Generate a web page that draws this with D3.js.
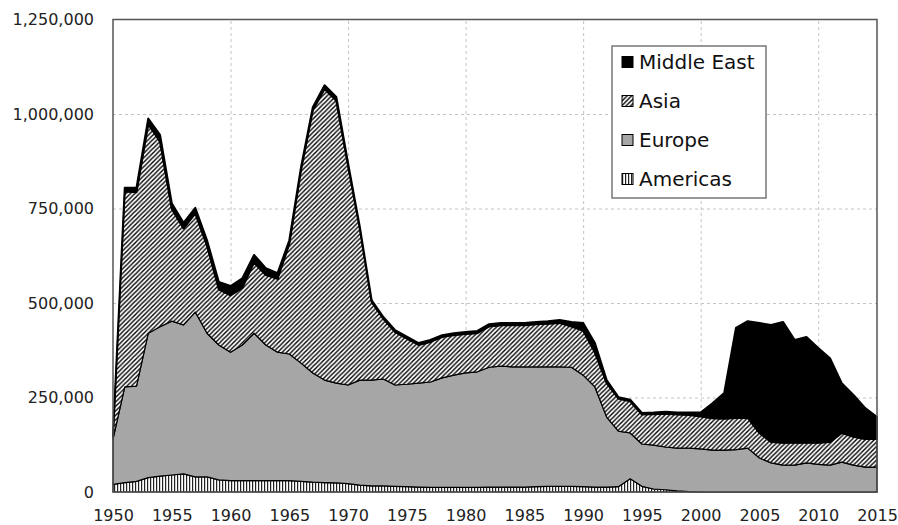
<!DOCTYPE html>
<meta charset="utf-8" />
<style>
  body { margin: 0; background: #fff; }
  svg { font-family: "DejaVu Sans", sans-serif; }
  .grid line { stroke: #c4c4c4; stroke-dasharray: 3,3; stroke-width: 1px; }
  .grid path { display: none; }
  .axis path { display: none; }
  .axis text { font-family: "DejaVu Sans", sans-serif; font-size: 16px; fill: #222; }
  .legend text { font-size: 20px; fill: #111; }
</style>
<body>
<script src="https://d3js.org/d3.v7.min.js"></script>
<script>

// data (thousands of people, per year)
var years = d3.range(1950, 2016);

var americas = [20, 25, 28, 38, 42, 45, 48, 40, 40, 32,
                30, 30, 30, 30, 30, 30, 28, 26, 25, 24,
                22, 18, 16, 16, 15, 14, 13, 12, 12, 12,
                12, 12, 13, 13, 13, 13, 14, 15, 15, 15,
                14, 13, 13, 14, 35, 15, 8, 6, 3, 1,
                0, 0, 0, 0, 0, 0, 0, 0, 0, 0,
                0, 0, 0, 0, 0, 0];

var europe = [120, 253, 252, 382, 395, 407, 394, 436, 380, 357,
              340, 359, 390, 359, 340, 335, 313, 289, 271, 264,
              261, 278, 280, 283, 268, 271, 275, 279, 290, 297,
              303, 306, 317, 320, 318, 318, 317, 316, 316, 315,
              295, 265, 185, 147, 121, 112, 116, 113, 113, 115,
              114, 111, 111, 112, 116, 90, 77, 71, 71, 77,
              73, 71, 79, 71, 66, 66];

var asia = [7, 517, 513, 553, 490, 297, 255, 261, 231, 147,
            150, 151, 187, 185, 194, 291, 511, 695, 770, 747,
            579, 400, 207, 159, 140, 121, 101, 106, 108, 106,
            103, 102, 108, 108, 110, 110, 113, 114, 116, 108,
            118, 91, 90, 86, 84, 78, 82, 88, 89, 88,
            86, 84, 83, 84, 80, 66, 55, 59, 59, 53,
            57, 61, 77, 75, 74, 74];

var middleEast = [3, 10, 12, 15, 18, 15, 15, 15, 15, 20,
                  25, 25, 20, 18, 15, 10, 8, 8, 10, 10,
                  8, 5, 5, 5, 5, 5, 5, 5, 5, 5,
                  5, 6, 6, 6, 6, 6, 6, 7, 8, 12,
                  20, 25, 8, 4, 4, 4, 4, 5, 5, 6,
                  10, 40, 68, 238, 256, 291, 310, 320, 272, 280,
                  251, 222, 132, 111, 82, 58];

var seriesNames = ["Americas", "Europe", "Asia", "Middle East"];
var xTicks = d3.range(1950, 2016, 5);
var xGrid = d3.range(1960, 2011, 10);
var yTicks = [0, 250000, 500000, 750000, 1000000, 1250000];

// table for d3.stack
var table = years.map(function(yr, i) {
  return {
    year: yr,
    "Americas": americas[i] * 1000,
    "Europe": europe[i] * 1000,
    "Asia": asia[i] * 1000,
    "Middle East": middleEast[i] * 1000
  };
});

var W = 898, H = 525;
var plotL = 113, plotR = 877, plotT = 19.5, plotB = 492;

var svg = d3.select("body").append("svg")
    .attr("width", W)
    .attr("height", H);

// fill patterns
var defs = svg.append("defs");

defs.append("pattern")
    .attr("id", "hatch")
    .attr("patternUnits", "userSpaceOnUse")
    .attr("width", 4.5).attr("height", 4.5)
  .call(function(p) {
    p.append("rect").attr("width", 4.5).attr("height", 4.5).attr("fill", "#fff");
    p.append("path")
      .attr("d", "M-1,1 l2,-2 M0,4.5 l4.5,-4.5 M3.5,5.5 l2,-2")
      .attr("stroke", "#000").attr("stroke-width", 1.4);
  });

defs.append("pattern")
    .attr("id", "vstripe")
    .attr("patternUnits", "userSpaceOnUse")
    .attr("width", 3).attr("height", 10)
  .call(function(p) {
    p.append("rect").attr("width", 3).attr("height", 10).attr("fill", "#fff");
    p.append("rect").attr("x", 0).attr("width", 1.2).attr("height", 10).attr("fill", "#222");
  });

var fills = {
  "Americas": "url(#vstripe)",
  "Europe": "#a6a6a6",
  "Asia": "url(#hatch)",
  "Middle East": "#000"
};

var x = d3.scaleLinear().domain([1950, 2015]).range([plotL, plotR]);
var y = d3.scaleLinear().domain([0, 1250000]).range([plotB, plotT]);

// grid
svg.append("g")
    .attr("class", "grid")
    .attr("transform", "translate(" + plotL + ",0)")
    .call(d3.axisLeft(y).tickValues(yTicks.slice(1, -1)).tickSize(-(plotR - plotL)).tickFormat(""));

svg.append("g")
    .attr("class", "grid")
    .attr("transform", "translate(0," + plotB + ")")
    .call(d3.axisBottom(x).tickValues(xGrid).tickSize(-(plotB - plotT)).tickFormat(""));

// stacked areas
var stack = d3.stack().keys(seriesNames);
var layers = stack(table);

var area = d3.area()
    .x(function(d) { return x(d.data.year); })
    .y0(function(d) { return y(d[0]); })
    .y1(function(d) { return y(d[1]); });

svg.append("g")
  .selectAll("path")
  .data(layers)
  .join("path")
    .attr("d", area)
    .attr("fill", function(d) { return fills[d.key]; })
    .attr("stroke", "#000")
    .attr("stroke-linejoin", "round")
    .attr("stroke-width", function(d) { return d.key == "Middle East" ? 2 : 1.2; });

// plot frame
svg.append("rect")
    .attr("x", plotL).attr("y", plotT)
    .attr("width", plotR - plotL).attr("height", plotB - plotT)
    .attr("fill", "none")
    .attr("stroke", "#555")
    .attr("stroke-width", 1.5);

// axes
svg.append("g")
    .attr("class", "axis")
    .attr("transform", "translate(" + plotL + ",0)")
    .call(d3.axisLeft(y).tickValues(yTicks).tickSize(0).tickPadding(19).tickFormat(d3.format(",")));

svg.append("g")
    .attr("class", "axis")
    .attr("transform", "translate(0," + plotB + ")")
    .call(d3.axisBottom(x).tickValues(xTicks).tickSize(0).tickPadding(18).tickFormat(d3.format("d")));

// legend
var legend = svg.append("g").attr("class", "legend");

legend.append("rect")
    .attr("x", 612).attr("y", 46)
    .attr("width", 154).attr("height", 152)
    .attr("fill", "#fff")
    .attr("stroke", "#777")
    .attr("stroke-width", 1.5);

var legendOrder = seriesNames.slice().reverse();

var item = legend.selectAll("g.item")
  .data(legendOrder)
  .join("g")
    .attr("class", "item")
    .attr("transform", function(d, i) { return "translate(622," + (62 + i * 39) + ")"; });

item.append("rect")
    .attr("x", 0).attr("y", -5.5)
    .attr("width", 11).attr("height", 11)
    .attr("fill", function(d) { return fills[d]; })
    .attr("stroke", "#000")
    .attr("stroke-width", 1);

item.append("text")
    .attr("x", 17)
    .attr("dy", "0.36em")
    .text(function(d) { return d; });

</script>
</body>
